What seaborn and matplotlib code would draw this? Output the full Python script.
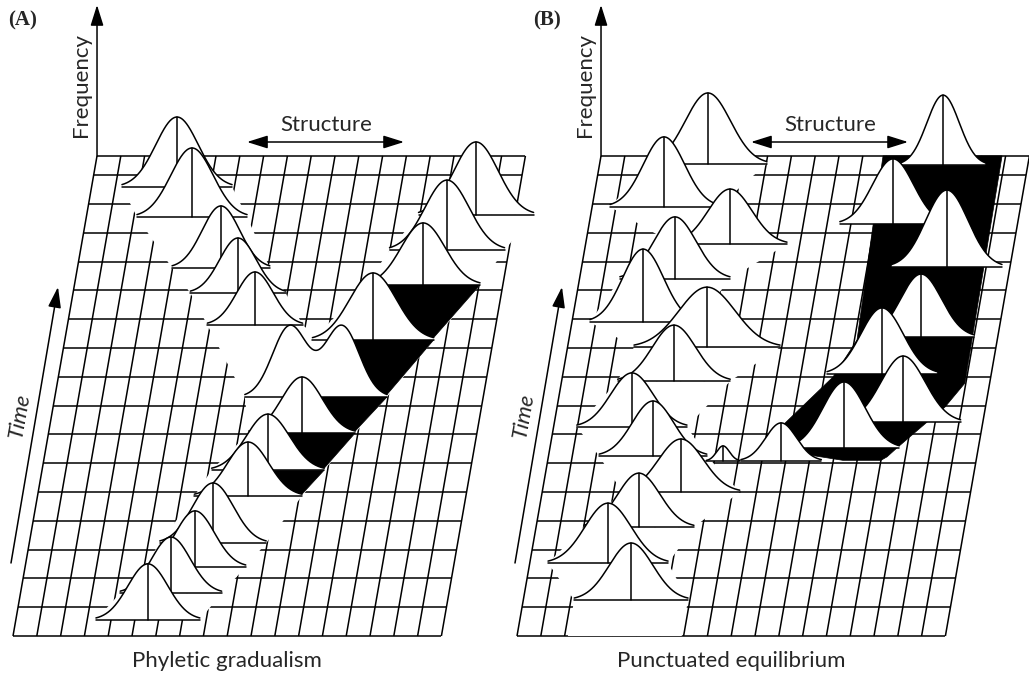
import numpy as np
import pandas as pd
import seaborn as sns
import matplotlib.pyplot as plt

sns.set_theme(style="white")
plt.rcParams["font.family"] = ["Lato", "DejaVu Sans"]

# sheet geometry (18 structure classes, 16.67 time steps, drawn slanted)
N_COLS = 18
T_TOP = 16.67
COL, ROW, SLANT, Y0 = 23.8, 28.8, 5.04, 636
FREQ_PX = 100
TAIL = 2.6
LW = 1.1

# ---------------- (A) phyletic gradualism ----------------
# one row per normal component: curve id, time (rows), mean structure (cols), sd, peak frequency
a_curve = ["a1", "a2", "a3", "a4", "a5", "a6", "a7", "bi", "bi", "r8", "r9", "r10", "r11",
           "l1", "l2", "l3", "l4", "l5"]
a_time = [0.56, 1.49, 2.40, 3.23, 4.86, 5.76, 7.05, 8.30, 8.30, 10.28, 12.19, 13.40, 14.62,
          10.80, 11.91, 12.78, 14.55, 15.59]
a_mean = [5.55, 6.32, 7.14, 7.72, 8.85, 9.49, 10.65, 9.88, 12.06, 12.95, 14.65, 15.40, 16.36,
          7.88, 6.93, 6.03, 4.44, 3.59]
a_sd = [0.84, 0.82, 0.82, 0.86, 0.87, 0.91, 0.86, 0.73, 0.73, 0.98, 0.92, 0.93, 0.93,
        0.77, 0.77, 0.79, 0.89, 0.89]
a_freq = [0.56, 0.56, 0.56, 0.60, 0.54, 0.56, 0.56, 0.71, 0.71, 0.67, 0.62, 0.70, 0.73,
          0.53, 0.55, 0.62, 0.69, 0.70]
# lineage links (front curve, back curve, shaded side)
a_links = [("a1", "a2", 0), ("a2", "a3", 0), ("a3", "a4", 0), ("a4", "a5", 0),
           ("a5", "a6", 1), ("a6", "a7", 1), ("a7", "bi", 1), ("bi", "r8", 1),
           ("r8", "r9", 1), ("r9", "r10", 0), ("r10", "r11", 0),
           ("bi", "l1", 0), ("l1", "l2", 0), ("l2", "l3", 0), ("l3", "l4", 0), ("l4", "l5", 0)]
a_no_stem = ["bi"]

# ---------------- (B) punctuated equilibrium ----------------
b_curve = ["s1", "s2", "s3", "s4", "s5", "s6", "s7", "s8", "s9", "s10", "s11", "s12", "s13",
           "t0", "n0", "n1", "n2", "n3", "n4", "n5", "n6", "n7"]
b_time = [1.25, 2.53, 3.78, 5.00, 6.25, 7.26, 8.85, 10.03, 10.90, 12.40, 13.61, 14.90, 16.39,
          6.08, 6.08, 6.53, 7.43, 9.10, 10.38, 12.81, 14.31, 16.35]
b_mean = [4.53, 3.29, 4.32, 5.83, 4.39, 3.29, 4.72, 5.86, 2.99, 4.01, 6.07, 3.02, 4.55,
          7.37, 9.81, 12.36, 14.65, 13.41, 14.78, 15.35, 12.77, 14.44]
b_sd = [0.92, 0.97, 0.89, 0.95, 0.87, 0.89, 0.91, 1.18, 0.86, 0.89, 0.92, 0.87, 0.95,
        0.27, 0.65, 0.89, 0.93, 0.89, 0.86, 0.89, 0.86, 0.68]
b_freq = [0.57, 0.60, 0.54, 0.53, 0.55, 0.54, 0.56, 0.60, 0.73, 0.62, 0.55, 0.70, 0.71,
          0.15, 0.38, 0.66, 0.66, 0.66, 0.63, 0.77, 0.65, 0.70]
b_links = [(None, "s1", 0), ("s1", "s2", 0), ("s2", "s3", 0), ("s3", "s4", 0), ("s4", "s5", 0),
           ("s5", "s6", 0), ("s6", "s7", 0), ("s7", "s8", 0), ("s8", "s9", 0), ("s9", "s10", 0),
           ("s10", "s11", 0), ("s11", "s12", 0), ("s12", "s13", 0)]
b_no_stem = []
# range occupied by the new species after the split (time, structure)
b_hi_time = [6.10, 6.22, 6.53, 7.43, 7.95, 8.78, 16.67]
b_hi = [14.0, 14.23, 14.58, 15.66, 16.30, 16.96, 16.85]
b_lo_time = [6.10, 6.28, 7.33, 8.99, 10.28, 14.27, 16.67]
b_lo = [12.4, 10.98, 9.63, 11.37, 12.11, 11.94, 11.85]


def proj(x0, c, r, h=0.0):
    x = x0 + COL * np.asarray(c, float) + SLANT * np.asarray(r, float)
    y = Y0 - ROW * np.asarray(r, float) - FREQ_PX * np.asarray(h, float)
    return x, y


def profile(df, cid, x0, n=260):
    comp = df[df.curve == cid]
    r = comp.time.iloc[0]
    lo = (comp["mean"] - TAIL * comp.sd).min()
    hi = (comp["mean"] + TAIL * comp.sd).max()
    u = np.linspace(lo, hi, n)
    h = np.zeros_like(u)
    for _, row in comp.iterrows():
        h += row.freq * np.exp(-0.5 * ((u - row["mean"]) / row.sd) ** 2)
    x, y = proj(x0, u, r, h)
    xb, yb = proj(x0, [lo, hi], [r, r])
    return dict(u=u, h=h, x=x, y=y, xb=xb, yb=float(yb[0]), comp=comp, r=r,
                peak_u=comp["mean"].max(), lo=lo, hi=hi)


def shade_polygon(front, back):
    yb = back["yb"]
    m = front["u"] >= front["peak_u"]
    fx, fy = front["x"][m], front["y"][m]
    keep = fy >= yb
    i = int(np.argmax(keep))
    px, py = list(fx[keep]), list(fy[keep])
    if i > 0:
        px.insert(0, np.interp(yb, [fy[i - 1], fy[i]], [fx[i - 1], fx[i]]))
        py.insert(0, yb)
    px.append(back["xb"][1])
    py.append(yb)
    return px, py


def draw_panel(ax, x0, df, links, no_stem):
    # slanted grid
    for c in range(N_COLS + 1):
        gx, gy = proj(x0, [c, c], [0, T_TOP])
        ax.plot(gx, gy, color="black", lw=LW, zorder=1, solid_capstyle="butt")
    for r in list(range(17)) + [T_TOP]:
        gx, gy = proj(x0, [0, N_COLS], [r, r])
        ax.plot(gx, gy, color="black", lw=LW, zorder=1, solid_capstyle="butt")

    prof = {cid: profile(df, cid, x0) for cid in df.curve.unique()}

    # opaque sheet between successive distributions of a lineage
    for front, back, shaded in links:
        b = prof[back]
        if front is None:
            fxl, fy0 = proj(x0, [b["lo"], b["hi"]], [0, 0])
            fl, fr, fyb = fxl[0], fxl[1], fy0[0]
        else:
            f = prof[front]
            fl, fr, fyb = f["xb"][0], f["xb"][1], f["yb"]
        ax.fill([fl, b["xb"][0], b["xb"][1], fr], [fyb, b["yb"], b["yb"], fyb],
                color="white", lw=0, zorder=2)
        if shaded:
            px, py = shade_polygon(prof[front], b)
            ax.fill(px, py, color="black", lw=0.5, ec="black", zorder=3)

    # distributions, back to front
    order = sorted(prof, key=lambda k: -prof[k]["r"])
    for i, cid in enumerate(order):
        p = prof[cid]
        z = 10 + i
        ax.fill(np.r_[p["x"], p["x"][-1], p["x"][0]], np.r_[p["y"], p["yb"], p["yb"]],
                color="white", lw=0, zorder=z)
        sns.lineplot(x=p["x"], y=p["y"], sort=False, estimator=None, color="black",
                     lw=LW, ax=ax, zorder=z + 0.5)
        ax.plot(p["xb"], [p["yb"], p["yb"]], color="black", lw=LW, zorder=z + 0.5)
        if cid not in no_stem:
            for _, row in p["comp"].iterrows():
                sx, sy = proj(x0, [row["mean"], row["mean"]], [p["r"], p["r"]], [0, row.freq])
                ax.plot(sx, sy, color="black", lw=LW, zorder=z + 0.5)


def arrow(ax, start, end, style="-|>"):
    ax.annotate("", xy=end, xytext=start,
                arrowprops=dict(arrowstyle=style + ",head_length=0.7,head_width=0.22",
                                color="black", lw=1.1, mutation_scale=18,
                                shrinkA=0, shrinkB=0))


df_a = pd.DataFrame(dict(curve=a_curve, time=a_time, mean=a_mean, sd=a_sd, freq=a_freq))
df_b = pd.DataFrame(dict(curve=b_curve, time=b_time, mean=b_mean, sd=b_sd, freq=b_freq))

fig = plt.figure(figsize=(10.29, 6.75), dpi=100)
ax = fig.add_axes([0, 0, 1, 1])

panels = [(13, df_a, a_links, a_no_stem, "(A)", "Phyletic gradualism"),
          (517, df_b, b_links, b_no_stem, "(B)", "Punctuated equilibrium")]

for x0, df, links, no_stem, tag, title in panels:
    draw_panel(ax, x0, df, links, no_stem)
    # frequency axis
    fx, fy = proj(x0, 0, T_TOP)
    arrow(ax, (fx, fy), (fx, 5))
    ax.text(fx - 16, 85, "Frequency", rotation=90, ha="center", va="center", fontsize=16)
    # structure axis
    arrow(ax, (fx + 150, 142), (fx + 307, 142), style="<|-|>")
    ax.text(fx + 229, 125, "Structure", ha="center", va="center", fontsize=16)
    # time axis
    arrow(ax, (x0 - 2, 563), (x0 + 45, 287))
    ax.text(x0 + 7, 416, "Time", rotation=80, style="italic", ha="center", va="center",
            fontsize=16)
    ax.text(x0 - 5 if tag == "(A)" else x0 + 16, 20, tag, fontfamily="Liberation Serif",
            fontweight="bold", fontsize=15, ha="left", va="center")
    ax.text(x0 + 214, 661, title, ha="center", va="center", fontsize=16)

# black band of the new species in (B)
bx_hi, by_hi = proj(517, b_hi, b_hi_time)
bx_lo, by_lo = proj(517, b_lo, b_lo_time)
ax.fill(np.r_[bx_hi, bx_lo[::-1]], np.r_[by_hi, by_lo[::-1]], color="black", lw=0.5,
        ec="black", zorder=3)

ax.set_xlim(0, 1029)
ax.set_ylim(675, 0)
ax.axis("off")
fig.savefig("out.png", dpi=100, facecolor="white")
